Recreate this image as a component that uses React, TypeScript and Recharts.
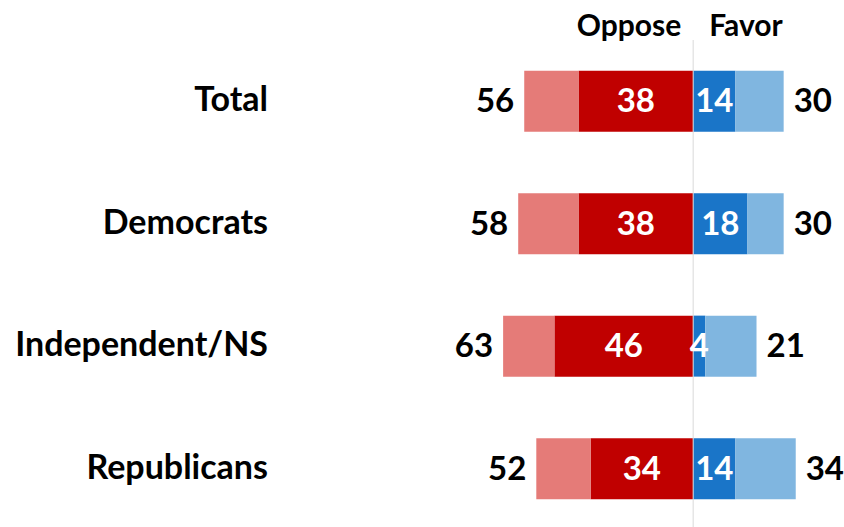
import { BarChart, Bar, XAxis, YAxis, ReferenceLine, LabelList } from 'recharts';

// Values
const groups = ['Total', 'Democrats', 'Independent/NS', 'Republicans'];
const opposeTotal = [56, 58, 63, 52];
const opposeStrong = [38, 38, 46, 34];
const favorStrong = [14, 18, 4, 14];
const favorTotal = [30, 30, 21, 34];

const data = groups.map((group, i) => ({
  group,
  opposeStrong: -opposeStrong[i],
  opposeRest: -(opposeTotal[i] - opposeStrong[i]),
  favorStrong: favorStrong[i],
  favorRest: favorTotal[i] - favorStrong[i],
}));

const FONT = 'Lato, "Open Sans", sans-serif';
const LABEL_RIGHT = 268;
const NUM_SIZE = 33;

const GroupTick = ({ y, payload }: any) => (
  <text x={LABEL_RIGHT} y={y} dy={10} textAnchor="end" fontFamily={FONT} fontWeight={700} fontSize={34} fill="#000">
    {payload.value}
  </text>
);

const OpposeTotalLabel = ({ x, y, width, height, index }: any) => {
  const left = Math.min(x, x + width);
  return (
    <text x={left - 10} y={y + height / 2} dy={11} textAnchor="end" fontFamily={FONT} fontWeight={700} fontSize={NUM_SIZE} fill="#000">
      {opposeTotal[index]}
    </text>
  );
};

const FavorTotalLabel = ({ x, y, width, height, index }: any) => {
  const right = Math.max(x, x + width);
  return (
    <text x={right + 10} y={y + height / 2} dy={11} textAnchor="start" fontFamily={FONT} fontWeight={700} fontSize={NUM_SIZE} fill="#000">
      {favorTotal[index]}
    </text>
  );
};

const InnerLabel = ({ x, y, width, height, value }: any) => (
  <text x={x + width / 2} y={y + height / 2} dy={11} textAnchor="middle" fontFamily={FONT} fontWeight={700} fontSize={NUM_SIZE} fill="#fff">
    {Math.abs(value)}
  </text>
);

const HeaderLabel = ({ viewBox }: any) => (
  <g fontFamily={FONT} fontWeight={700} fontSize={30} fill="#000">
    <text x={viewBox.x - 12} y={viewBox.y - 4} textAnchor="end">Oppose</text>
    <text x={viewBox.x + 16} y={viewBox.y - 4} textAnchor="start">Favor</text>
  </g>
);

export default function App() {
  return (
    <div style={{ position: 'fixed', left: 0, top: 0, width: 844, height: 527, overflow: 'hidden', background: '#fff' }}>
      <BarChart
        width={844}
        height={530}
        data={data}
        layout="vertical"
        stackOffset="sign"
        barCategoryGap="25%"
        margin={{ top: 40, right: 0, bottom: 0, left: 0 }}
      >
        <XAxis type="number" domain={[-70, 50]} hide />
        <YAxis type="category" dataKey="group" width={482} axisLine={false} tickLine={false} tick={<GroupTick />} />
        <Bar dataKey="opposeStrong" stackId="a" fill="#C00000" isAnimationActive={false}>
          <LabelList dataKey="opposeStrong" content={<InnerLabel />} />
        </Bar>
        <Bar dataKey="opposeRest" stackId="a" fill="#E57B78" isAnimationActive={false}>
          <LabelList dataKey="opposeRest" content={<OpposeTotalLabel />} />
        </Bar>
        <Bar dataKey="favorStrong" stackId="a" fill="#1A75C8" isAnimationActive={false}>
          <LabelList dataKey="favorStrong" content={<InnerLabel />} />
        </Bar>
        <Bar dataKey="favorRest" stackId="a" fill="#80B6E0" isAnimationActive={false}>
          <LabelList dataKey="favorRest" content={<FavorTotalLabel />} />
        </Bar>
        <ReferenceLine x={0} stroke="#D9D9D9" strokeWidth={1} label={<HeaderLabel />} />
      </BarChart>
    </div>
  );
}
